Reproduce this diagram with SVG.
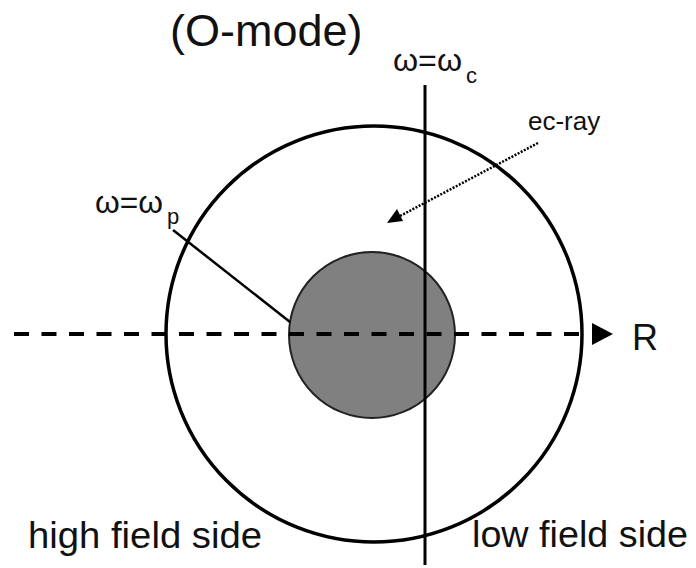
<svg xmlns="http://www.w3.org/2000/svg" width="696" height="568" viewBox="0 0 696 568">
<style>
  text { font-family: "Liberation Sans", Arial, sans-serif; fill: #111; }
  .lbl { font-size: 37.5px; }
  .om { font-size: 32px; }
  .sub { font-size: 22px; }
</style>
<rect width="696" height="568" fill="#fff"/>
<g id="outer-circle">
  <circle cx="374" cy="334" r="208" fill="none" stroke="#000" stroke-width="3.5"/>
</g>
<g id="plasma-core">
  <circle cx="372" cy="335" r="83" fill="#808080" stroke="#222" stroke-width="2"/>
</g>
<g id="connectors">
  <line x1="14" y1="334" x2="584" y2="334" stroke="#000" stroke-width="4" stroke-dasharray="15 12.5"/>
  <path d="M592,323 L613,334 L592,345 Z" fill="#000"/>
  <line x1="425" y1="85" x2="425" y2="565" stroke="#000" stroke-width="3"/>
  <line x1="173" y1="230" x2="290" y2="322" stroke="#000" stroke-width="2.5"/>
  <line x1="538" y1="143" x2="400" y2="216" stroke="#000" stroke-width="2.5" stroke-dasharray="2 1.5"/>
  <path d="M387,223 L397,209 L403,221 Z" fill="#000"/>
</g>
<g id="labels">
  <text x="170" y="46" font-size="45">(O-mode)</text>
  <text x="393" y="71" class="om" textLength="69" lengthAdjust="spacingAndGlyphs">ω=ω</text>
  <text x="466" y="83" class="sub">c</text>
  <text x="95" y="213" class="om" textLength="68" lengthAdjust="spacingAndGlyphs">ω=ω</text>
  <text x="167" y="224" class="sub">p</text>
  <text x="528" y="130" font-size="26">ec-ray</text>
  <text x="632" y="350" font-size="36">R</text>
  <text x="28" y="548" class="lbl" textLength="234" lengthAdjust="spacingAndGlyphs">high field side</text>
  <text x="472" y="547" class="lbl" textLength="216" lengthAdjust="spacingAndGlyphs">low field side</text>
</g>
</svg>
